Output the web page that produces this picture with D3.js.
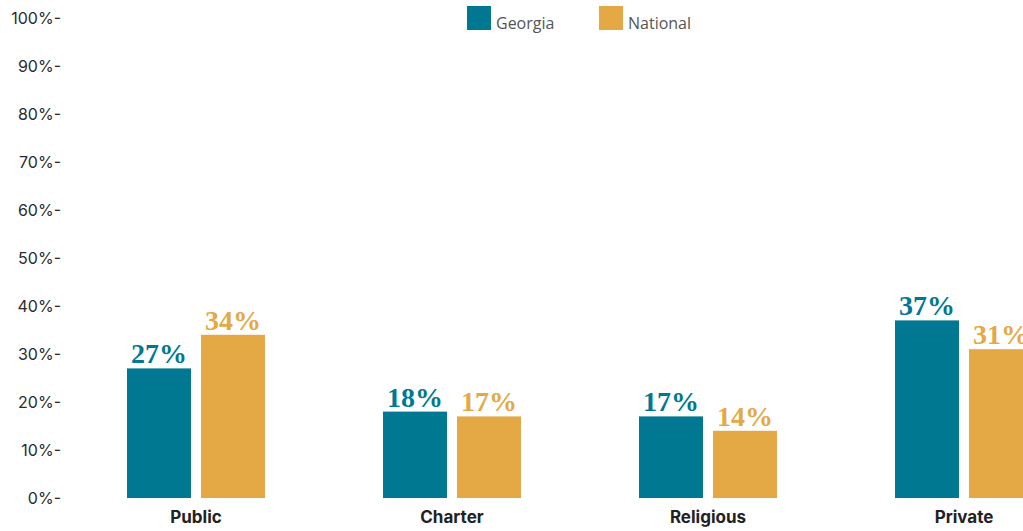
<!DOCTYPE html>
<html>
<head>
<meta charset="utf-8">
<script src="https://cdn.jsdelivr.net/npm/d3@7"></script>
<style>
  html, body { margin: 0; padding: 0; background: #fff; overflow: hidden; }
  svg { display: block; }
</style>
</head>
<body>
<svg id="chart" width="1023" height="531"></svg>
<script>
// School types and the share for each region
const categories = ["Public", "Charter", "Religious", "Private"];
const seriesNames = ["Georgia", "National"];
const georgiaValues = [27, 18, 17, 37];
const nationalValues = [34, 17, 14, 31];
const tickValues = [0, 10, 20, 30, 40, 50, 60, 70, 80, 90, 100];
const colors = ["#007892", "#E4A944"];

const svg = d3.select("#chart");

const y = d3.scaleLinear().domain([0, 100]).range([498, 18]);

const x = d3.scaleBand().domain(categories).range([68, 1092]).paddingInner(0).paddingOuter(0);
const xInner = d3.scaleBand().domain(seriesNames).range([x.bandwidth() / 2 - 69, x.bandwidth() / 2 + 69]).paddingInner(0.135);

const rows = categories.map((c, i) => ({
  category: c,
  values: [
    { series: "Georgia", value: georgiaValues[i] },
    { series: "National", value: nationalValues[i] }
  ]
}));

// Y axis: labels with a trailing dash, no domain line
const yAxis = d3.axisLeft(y)
  .tickValues(tickValues)
  .tickSize(0)
  .tickPadding(0)
  .tickFormat(d => d + "%-");

const yg = svg.append("g").attr("transform", "translate(61,0)").call(yAxis);
yg.select(".domain").remove();
yg.selectAll("text")
  .attr("font-family", "Inter, 'Liberation Sans', sans-serif")
  .attr("font-size", 16)
  .attr("fill", "#2b2b2b");

// Category axis
const xAxis = d3.axisBottom(x).tickSize(0).tickPadding(0);
const xg = svg.append("g").attr("transform", "translate(0,523)").call(xAxis);
xg.select(".domain").remove();
xg.selectAll("text")
  .attr("font-family", "Inter, 'Liberation Sans', sans-serif")
  .attr("font-weight", 700)
  .attr("font-size", 17)
  .attr("fill", "#222")
  .attr("dy", 0)
  .attr("y", 0);

// Bars
const groups = svg.append("g").selectAll("g")
  .data(rows)
  .join("g")
  .attr("transform", d => `translate(${x(d.category)},0)`);

groups.selectAll("rect")
  .data(d => d.values)
  .join("rect")
  .attr("x", d => xInner(d.series))
  .attr("width", xInner.bandwidth())
  .attr("y", d => y(d.value))
  .attr("height", d => y(0) - y(d.value))
  .attr("fill", (d, i) => colors[i]);

// Value labels
groups.selectAll("text.value")
  .data(d => d.values)
  .join("text")
  .attr("class", "value")
  .attr("x", d => xInner(d.series) + xInner.bandwidth() / 2)
  .attr("y", d => y(d.value) - 5)
  .attr("text-anchor", "middle")
  .attr("font-family", "'Liberation Serif', 'DejaVu Serif', serif")
  .attr("font-weight", 700)
  .attr("font-size", 28)
  .attr("fill", (d, i) => colors[i])
  .text(d => d.value + "%");

// Legend
const legend = svg.append("g");
const legendX = [467, 599];
seriesNames.forEach((name, i) => {
  legend.append("rect")
    .attr("x", legendX[i]).attr("y", 6)
    .attr("width", 24).attr("height", 24)
    .attr("fill", colors[i]);
  legend.append("text")
    .attr("x", legendX[i] + 29).attr("y", 29)
    .attr("font-family", "'Open Sans', sans-serif")
    .attr("font-size", 16)
    .attr("fill", "#555")
    .text(name);
});
</script>
</body>
</html>
